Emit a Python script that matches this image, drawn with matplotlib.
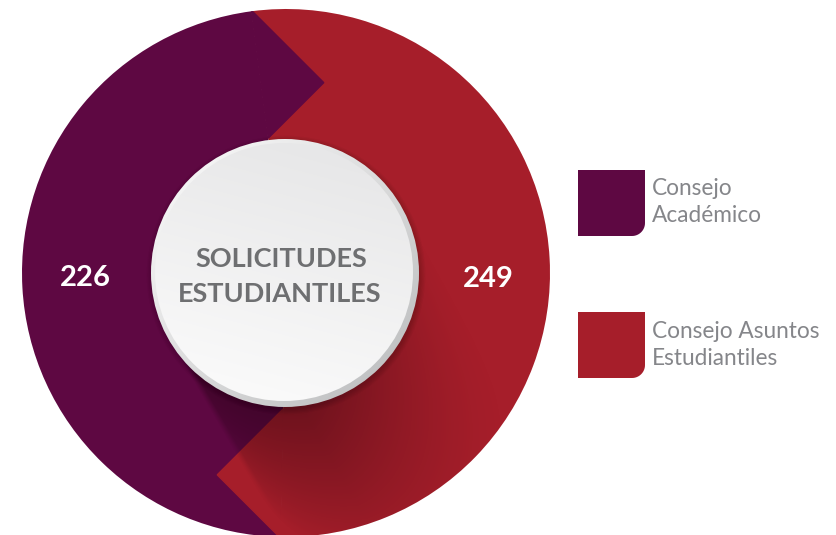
import numpy as np
import matplotlib
matplotlib.use('Agg')
import matplotlib.pyplot as plt
from matplotlib.patches import Circle, Polygon
from matplotlib.colors import to_rgb

# ---------------- data ----------------
categories = ['Consejo\nAcadémico', 'Consejo Asuntos\nEstudiantiles']
values = [226, 249]
value_labels = ['226', '249']
title_lines = ['SOLICITUDES', 'ESTUDIANTILES']
colors = ['#5E0842', '#A61E2A']

# ---------------- layout ----------------
W, H = 837, 535
fig = plt.figure(figsize=(W / 100, H / 100), dpi=100)
ax = fig.add_axes([0, 0, 1, 1])
cx, cy = 286, 262          # centre of the ring (y measured upward)
R = 264                    # outer radius
r_in = 134                 # radius of the central disc
FONT = ['Lato', 'DejaVu Sans']

wedges, _ = ax.pie(values, colors=colors, startangle=97.5, counterclock=True,
                   radius=R, center=(cx, cy),
                   wedgeprops=dict(linewidth=0, antialiased=True))
for w in wedges:
    w.set_zorder(1)

outer_clip = Circle((cx, cy), R, transform=ax.transData)

# decorative chevrons (45-degree edges) at each wedge's starting edge
c = np.array([cx, cy], float)
for w in wedges:
    th = np.deg2rad(w.theta1)
    e = np.array([np.cos(th), np.sin(th)])
    tcw = np.array([np.sin(th), -np.cos(th)])
    p_out = c + (R + 1) * e
    p_in = c + (r_in + 2) * e
    s = np.sign(tcw[0])
    k = np.sign(e[1])
    a = ((p_in[0] - p_out[0]) / s + (p_out[1] - p_in[1]) / k) / 2
    apex = p_out + a * np.array([s, -k])
    fc = w.get_facecolor()
    tri = Polygon([p_out, apex, p_in], closed=True, fc=fc, ec=fc, lw=1.0,
                  zorder=2)
    ax.add_patch(tri)
    tri.set_clip_path(outer_clip)

# long shadow of the central disc
ys, xs = np.mgrid[0:H, 0:W] + 0.5
dx = xs - cx
dy = ys - cy
ang = np.deg2rad(-60)
u = (np.cos(ang), np.sin(ang))
nv = (-np.sin(ang), np.cos(ang))
t = dx * u[0] + dy * u[1]
d = dx * nv[0] + dy * nv[1]
t0 = np.sqrt(np.clip(r_in ** 2 - d ** 2, 0, None))
alpha = 0.40 * np.clip(1 - (t - t0) / 175.0, 0, 1)
alpha *= (t > 0)
alpha *= np.clip((r_in + d) / 6.0, 0, 1)                 # crisp left edge
alpha *= np.clip((r_in - d) / (1.4 * r_in), 0, 1)        # soft right side
rgba = np.zeros((H, W, 4))
rgba[..., :3] = np.array([0.10, 0.0, 0.04])
rgba[..., 3] = alpha
im = ax.imshow(rgba, extent=(0, W, 0, H), origin='lower', zorder=3,
               interpolation='bilinear')
im.set_clip_path(outer_clip)

# soft drop shadow under the disc
for k in range(5):
    ax.add_patch(Circle((cx, cy - 2), r_in + 0.5 + k * 1.2, fc='black',
                        ec='none', alpha=0.03, zorder=4))


def grad_disc(center, radius, c0, c1, angle_deg, z):
    n = 500
    g = np.linspace(-1, 1, n)
    GX, GY = np.meshgrid(g, g)
    a = np.deg2rad(angle_deg)
    s = np.clip((GX * np.cos(a) + GY * np.sin(a) + 1) / 2, 0, 1)[..., None]
    col = (1 - s) * np.array(to_rgb(c0)) + s * np.array(to_rgb(c1))
    ext = (center[0] - radius, center[0] + radius,
           center[1] - radius, center[1] + radius)
    img = ax.imshow(col, extent=ext, origin='lower', zorder=z,
                    interpolation='bilinear')
    clip = Circle(center, radius, transform=ax.transData)
    img.set_clip_path(clip)


# rim and face of the central disc
grad_disc((cx - 1, cy), r_in, '#F4F4F4', '#C2C3C4', -45, 5)
grad_disc((cx - 2, cy + 1), r_in - 5, '#E7E7E8', '#FAFAFA', -105, 6)

# central title
ax.text(cx - 5, H - 267, title_lines[0], ha='center', va='baseline',
        fontsize=19.5, fontweight='bold', color='#6E6F71', family=FONT, zorder=7)
ax.text(cx - 6, H - 302, title_lines[1], ha='center', va='baseline',
        fontsize=19.5, fontweight='bold', color='#6E6F71', family=FONT, zorder=7)

# values
ax.text(85, H - 286, value_labels[0], ha='center', va='baseline',
        fontsize=21, fontweight='bold', color='white', family=FONT, zorder=7)
ax.text(488, H - 287, value_labels[1], ha='center', va='baseline',
        fontsize=21, fontweight='bold', color='white', family=FONT, zorder=7)


# legend
def legend_square(x0, ytop, w, h, rad, color):
    left, right = x0, x0 + w
    top = H - ytop
    bottom = top - h
    th = np.linspace(0, -np.pi / 2, 16)
    arc = [(right - rad + rad * np.cos(q), bottom + rad + rad * np.sin(q)) for q in th]
    verts = [(left, top), (right, top)] + arc + [(left, bottom)]
    ax.add_patch(Polygon(verts, closed=True, fc=color, ec='none', zorder=7))


leg_tops = [170, 312]
leg_base = [195, 338]
for i, lab in enumerate(categories):
    legend_square(578, leg_tops[i], 67, 66, 13, colors[i])
    for j, line in enumerate(lab.split('\n')):
        ax.text(652, H - (leg_base[i] + 27 * j), line, ha='left', va='baseline',
                fontsize=16.3, color='#85868A', family=FONT, zorder=7)

ax.set_aspect('auto')
ax.set_xlim(0, W)
ax.set_ylim(0, H)
ax.axis('off')
fig.savefig('out.png', dpi=100, facecolor='white')
